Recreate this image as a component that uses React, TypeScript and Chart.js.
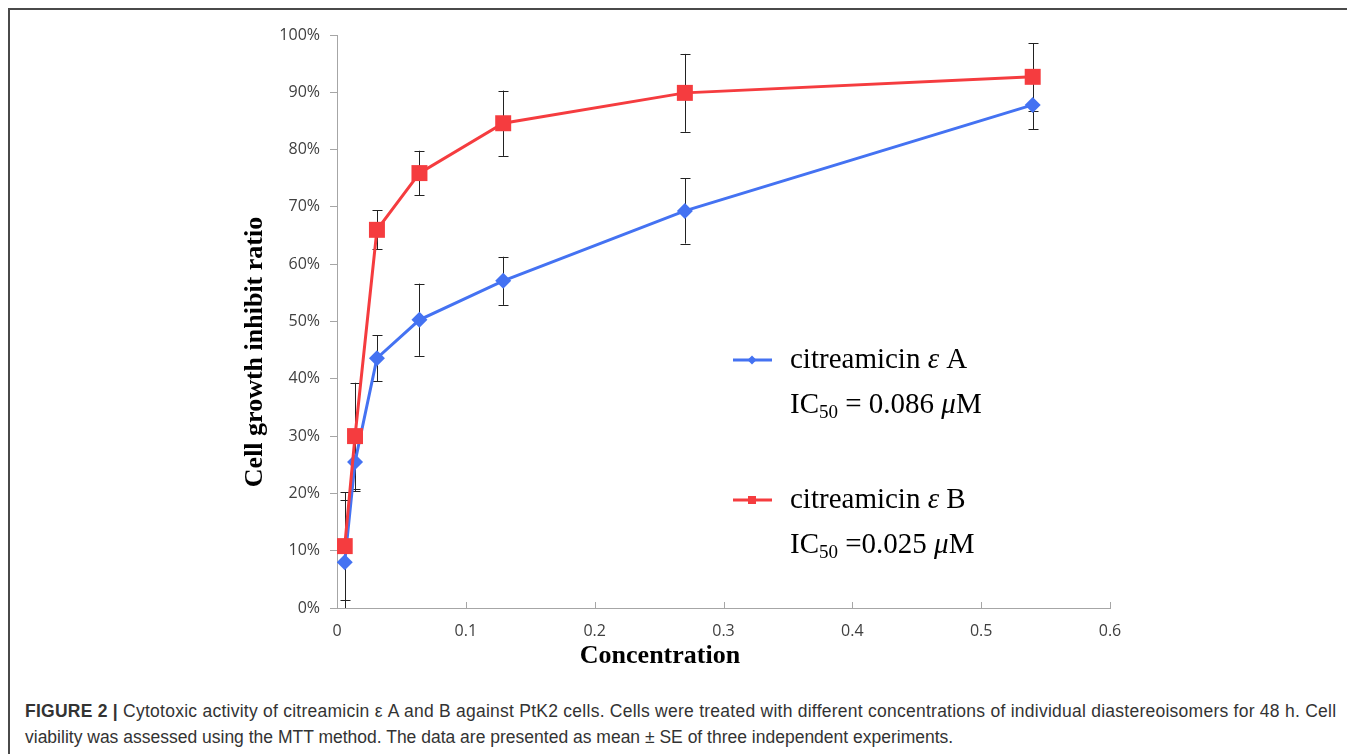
import React, { useEffect, useRef } from "react";
import { Chart, registerables } from "chart.js";

Chart.register(...registerables);

// Concentrations (µM)
const concentrations = [0.006, 0.014, 0.031, 0.064, 0.129, 0.27, 0.54];
// citreamicin ε A
const seriesA = [8.0, 25.5, 43.6, 50.3, 57.1, 69.3, 87.8];
const errorA = [10.8, 5.1, 4.0, 6.3, 4.2, 5.7, 4.2];
// citreamicin ε B
const seriesB = [10.8, 30.0, 66.0, 75.9, 84.6, 89.9, 92.7];
const errorB = [9.4, 9.3, 3.4, 3.9, 5.7, 6.8, 5.9];

const xTicks = [0, 0.1, 0.2, 0.3, 0.4, 0.5, 0.6];
const yTicks = [0, 10, 20, 30, 40, 50, 60, 70, 80, 90, 100];

const BLUE = "#4472F2";
const RED = "#F53C3F";
const SERIF = "'Liberation Serif', 'Times New Roman', serif";

const errorBarPlugin = {
  id: "errorBars",
  beforeDatasetsDraw(chart: any) {
    const { ctx, chartArea, scales } = chart;
    const x = scales.x;
    const y = scales.y;
    ctx.save();
    ctx.beginPath();
    ctx.rect(chartArea.left, chartArea.top - 20, chartArea.right - chartArea.left, chartArea.bottom - chartArea.top + 20);
    ctx.clip();
    ctx.strokeStyle = "#222";
    ctx.lineWidth = 1;
    const draw = (vals: number[], errs: number[]) => {
      vals.forEach((v, i) => {
        const px = Math.round(x.getPixelForValue(concentrations[i])) + 0.5;
        const top = y.getPixelForValue(v + errs[i]);
        const bot = y.getPixelForValue(v - errs[i]);
        ctx.beginPath();
        ctx.moveTo(px, top);
        ctx.lineTo(px, bot);
        ctx.stroke();
        [top, bot].forEach((py) => {
          if (py >= chartArea.top - 20 && py <= chartArea.bottom) {
            const yy = Math.round(py) + 0.5;
            ctx.beginPath();
            ctx.moveTo(px - 5, yy);
            ctx.lineTo(px + 5, yy);
            ctx.stroke();
          }
        });
      });
    };
    draw(seriesA, errorA);
    draw(seriesB, errorB);
    ctx.restore();
  },
};

const decorPlugin = {
  id: "decor",
  afterDraw(chart: any) {
    const { ctx, chartArea, scales } = chart;
    const x = scales.x;
    ctx.save();
    // inside x ticks
    ctx.strokeStyle = "#a6a6a6";
    ctx.lineWidth = 1;
    xTicks.forEach((t) => {
      const px = Math.round(x.getPixelForValue(t)) + 0.5;
      ctx.beginPath();
      ctx.moveTo(px, chartArea.bottom);
      ctx.lineTo(px, chartArea.bottom - 6);
      ctx.stroke();
    });

    // axis titles
    ctx.fillStyle = "#000";
    ctx.font = `bold 26px ${SERIF}`;
    ctx.textAlign = "center";
    ctx.textBaseline = "alphabetic";
    ctx.fillText("Concentration", 650, 653);
    ctx.save();
    ctx.translate(252, 342);
    ctx.rotate(-Math.PI / 2);
    ctx.fillText("Cell growth inhibit ratio", 0, 0);
    ctx.restore();

    // legend
    const drawRuns = (runs: [string, string, number][], x0: number, y0: number) => {
      let cx = x0;
      ctx.textAlign = "left";
      runs.forEach(([txt, style, dy]) => {
        if (style === "sub") ctx.font = `19px ${SERIF}`;
        else if (style === "italic") ctx.font = `italic 29px ${SERIF}`;
        else ctx.font = `29px ${SERIF}`;
        ctx.fillText(txt, cx, y0 + dy);
        cx += ctx.measureText(txt).width;
      });
    };
    const legendItem = (color: string, shape: string, ly: number, name: string, ic: string, ty: number) => {
      ctx.strokeStyle = color;
      ctx.fillStyle = color;
      ctx.lineWidth = 3;
      ctx.beginPath();
      ctx.moveTo(723, ly);
      ctx.lineTo(762, ly);
      ctx.stroke();
      ctx.beginPath();
      if (shape === "diamond") {
        ctx.moveTo(742, ly - 4.5);
        ctx.lineTo(746.5, ly);
        ctx.lineTo(742, ly + 4.5);
        ctx.lineTo(737.5, ly);
        ctx.closePath();
      } else {
        ctx.rect(738, ly - 4, 8, 8);
      }
      ctx.fill();
      ctx.fillStyle = "#000";
      drawRuns([["citreamicin ", "normal", 0], ["ε", "italic", 0], [" " + name, "normal", 0]], 780, ty);
      drawRuns([["IC", "normal", 0], ["50", "sub", 5], [ic, "normal", 0], ["μ", "italic", 0], ["M", "normal", 0]], 780, ty + 45);
    };
    legendItem(BLUE, "diamond", 350, "A", " = 0.086 ", 358);
    legendItem(RED, "square", 490, "B", " =0.025 ", 498);
    ctx.restore();
  },
};

export default function App() {
  const ref = useRef<HTMLCanvasElement>(null);
  useEffect(() => {
    if (!ref.current) return;
    const chart = new Chart(ref.current, {
      type: "line",
      data: {
        datasets: [
          {
            label: "citreamicin ε A",
            data: concentrations.map((c, i) => ({ x: c, y: seriesA[i] })),
            borderColor: BLUE,
            backgroundColor: BLUE,
            borderWidth: 3,
            pointStyle: "rectRot",
            pointRadius: 8,
            pointBorderWidth: 0,
            tension: 0,
            order: 2,
          },
          {
            label: "citreamicin ε B",
            data: concentrations.map((c, i) => ({ x: c, y: seriesB[i] })),
            borderColor: RED,
            backgroundColor: RED,
            borderWidth: 3,
            pointStyle: "rect",
            pointRadius: 11.3,
            pointBorderWidth: 0,
            tension: 0,
            order: 1,
          },
        ],
      },
      options: {
        animation: false,
        responsive: false,
        maintainAspectRatio: false,
        layout: { padding: { top: 25, right: 240, left: 0, bottom: 0 } },
        plugins: { legend: { display: false }, tooltip: { enabled: false } },
        scales: {
          x: {
            type: "linear",
            min: 0,
            max: 0.6,
            afterFit: (s: any) => { s.height = 72; },
            afterBuildTicks: (s: any) => { s.ticks = xTicks.map((v) => ({ value: v })); },
            grid: { display: true, drawOnChartArea: false, drawTicks: false, color: "#a6a6a6" },
            border: { color: "#a6a6a6", width: 1 },
            ticks: {
              padding: 14,
              color: "#404040",
              font: { family: "'Open Sans', sans-serif", size: 16 },
              callback: (v: any) => String(Number(Number(v).toFixed(1))),
            },
          },
          y: {
            type: "linear",
            min: 0,
            max: 100,
            afterFit: (s: any) => { s.width = 327; },
            afterBuildTicks: (s: any) => { s.ticks = yTicks.map((v) => ({ value: v })); },
            grid: { display: true, drawOnChartArea: false, drawTicks: true, tickLength: 7, color: "#a6a6a6" },
            border: { color: "#a6a6a6", width: 1 },
            ticks: {
              padding: 10,
              color: "#404040",
              font: { family: "'Open Sans', sans-serif", size: 16 },
              callback: (v: any) => `${v}%`,
            },
          },
        },
      },
      plugins: [errorBarPlugin, decorPlugin],
    });
    return () => chart.destroy();
  }, []);

  return (
    <div
      style={{
        position: "relative",
        width: 1347,
        height: 746,
        borderTop: "2px solid #4a4a4a",
        borderLeft: "2px solid #4a4a4a",
        boxSizing: "border-box",
        background: "#fff",
        overflow: "hidden",
      }}
    >
      <canvas ref={ref} width={1340} height={670} style={{ position: "absolute", left: 0, top: 0, width: 1340, height: 670 }} />
      <div
        style={{
          position: "absolute",
          left: 15,
          top: 688,
          fontFamily: "'Liberation Sans', Arial, sans-serif",
          fontSize: 17.5,
          lineHeight: "26px",
          color: "#333",
          whiteSpace: "nowrap",
        }}
      >
        <div style={{ letterSpacing: "0.25px" }}>
          <b>FIGURE 2 |</b> Cytotoxic activity of citreamicin ε A and B against PtK2 cells. Cells were treated with different concentrations of individual diastereoisomers for 48 h. Cell
        </div>
        <div>viability was assessed using the MTT method. The data are presented as mean ± SE of three independent experiments.</div>
      </div>
    </div>
  );
}
